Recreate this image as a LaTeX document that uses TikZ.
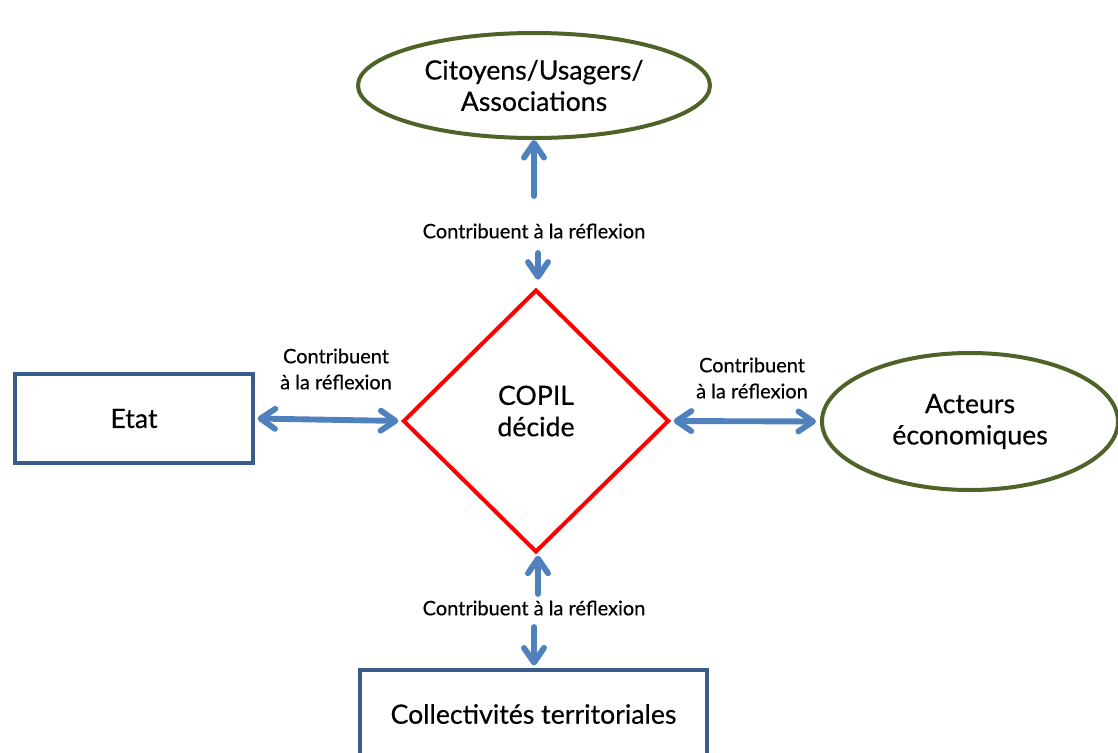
\documentclass[tikz,border=0pt]{standalone}
\usepackage{fontspec}
\setmainfont{Lato}[FakeBold=0.4]
\usetikzlibrary{shapes.geometric,arrows.meta}
\definecolor{arrowblue}{RGB}{79,129,189}
\definecolor{boxblue}{RGB}{56,93,138}
\definecolor{olive}{RGB}{79,98,40}
\tikzset{
  big/.style={font=\fontsize{20}{23.5}\selectfont, align=center, text=black},
  small/.style={font=\fontsize{15}{19.5}\selectfont, align=center, text=black, inner sep=0pt},
  ellbox/.style={ellipse, draw=olive, line width=3pt, inner sep=0pt, big},
  rectbox/.style={rectangle, draw=boxblue, line width=2.8pt, inner sep=0pt, big},
  copil/.style={diamond, draw=red, line width=3pt, inner sep=0pt, aspect=1},
  arr/.style={draw=arrowblue, line width=4.4pt, line cap=round, -{Straight Barb[length=11pt, width=15pt, round]}},
  darr/.style={draw=arrowblue, line width=4.4pt, line cap=round, {Straight Barb[length=11pt, width=15pt, round]}-{Straight Barb[length=11pt, width=15pt, round]}},
}
\begin{document}
\begin{tikzpicture}[x=0.75pt, y=-0.75pt]
\clip (0,0) rectangle (1118,753);
\fill[white] (0,0) rectangle (1118,753);

% nodes
\node[ellbox, minimum width=264pt, minimum height=78.75pt] (cit) at (534,85.5) {Citoyens/Usagers/\\Associations};
\node[copil, minimum width=199.5pt, minimum height=197pt] (cop) at (536,421) {};
\node[big] (coptext) at (536,411) {COPIL\\décide};
\node[rectbox, minimum width=178.5pt, minimum height=66.75pt] (etat) at (134,418.5) {Etat};
\node[ellbox, minimum width=222pt, minimum height=102.75pt] (act) at (970,421.5) {Acteurs\\économiques};
\node[rectbox, minimum width=260pt, minimum height=66pt] (coll) at (533.5,714) {Collectivités territoriales};

% labels
\node[small] (ltop) at (534,231) {Contribuent à la réflexion};
\node[small] (lleft) at (336,369) {Contribuent\\à la réflexion};
\node[small] (lright) at (752,378) {Contribuent\\à la réflexion};
\node[small] (lbot) at (534,608) {Contribuent à la réflexion};

% free ends
\coordinate (t1) at (534,196);
\coordinate (t2) at (538,253);
\coordinate (b1) at (538,594);
\coordinate (b2) at (534,627);

% connectors
\draw[arr] (t1) -- (cit.south);
\draw[arr, shorten >=6pt] (t2) -- (t2 |- cop.north);
\draw[darr, shorten <=2pt, shorten >=2pt] (etat.east) -- (cop.west);
\draw[darr, shorten <=2pt, shorten >=3pt] (cop.east) -- (act.west);
\draw[arr, shorten >=1pt] (b1) -- (b1 |- cop.south);
\draw[arr, shorten >=2pt] (b2) -- (b2 |- coll.north);
\end{tikzpicture}
\end{document}
